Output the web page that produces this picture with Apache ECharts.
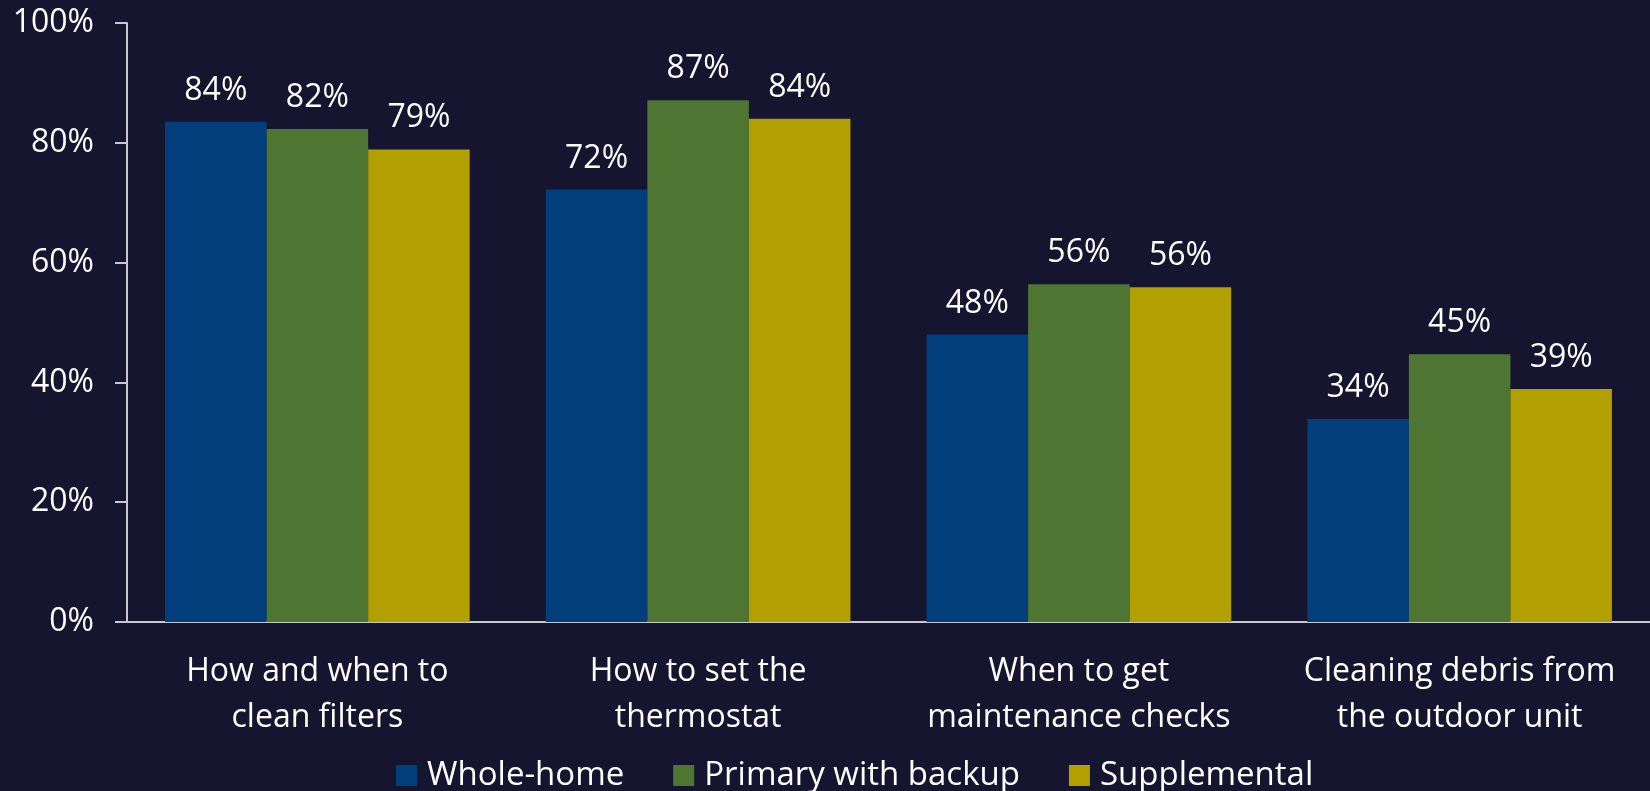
<!DOCTYPE html>
<html>
<head>
<meta charset="utf-8">
<script src="https://cdn.jsdelivr.net/npm/echarts@6/dist/echarts.min.js"></script>
<style>
  html, body { margin: 0; padding: 0; background: #15152f; }
  #chart { width: 1650px; height: 791px; }
</style>
</head>
<body>
<div id="chart"></div>
<script>
var categories = ['How and when to\nclean filters', 'How to set the\nthermostat', 'When to get\nmaintenance checks', 'Cleaning debris from\nthe outdoor unit'];
var wholeHome = [83.5, 72.2, 48.0, 33.9];
var primaryBackup = [82.3, 87.1, 56.4, 44.7];
var supplemental = [78.9, 84.0, 55.9, 38.9];
var yTicks = [0, 20, 40, 60, 80, 100];

var fontFam = '"Open Sans", sans-serif';
var chart = echarts.init(document.getElementById('chart'));

function barSeries(name, data, color) {
    return {
        name: name,
        type: 'bar',
        data: data,
        barGap: '0%',
        barCategoryGap: '20%',
        itemStyle: { color: color },
        label: {
            show: true,
            position: 'top',
            distance: 15,
            color: '#ffffff',
            fontSize: 32,
            fontFamily: fontFam,
            formatter: function (p) { return Math.round(p.value) + '%'; }
        }
    };
}

chart.setOption({
    backgroundColor: '#15152f',
    animation: false,
    grid: { left: 127, right: 0, top: 23, bottom: 169 },
    legend: {
        top: 759,
        left: 396,
        padding: 0,
        itemWidth: 21,
        itemHeight: 21,
        itemGap: 49,
        icon: 'rect',
        textStyle: { color: '#ffffff', fontSize: 33, fontFamily: fontFam, padding: [0, 0, 0, 5] },
        data: ['Whole-home', 'Primary with backup', 'Supplemental']
    },
    xAxis: {
        type: 'category',
        data: categories,
        axisLine: { lineStyle: { color: '#c8c8c8', width: 2 } },
        axisTick: { show: false },
        axisLabel: {
            color: '#ffffff',
            fontSize: 32,
            fontFamily: fontFam,
            lineHeight: 46,
            margin: 27,
            interval: 0
        }
    },
    yAxis: {
        type: 'value',
        min: yTicks[0],
        max: yTicks[yTicks.length - 1],
        interval: 20,
        splitLine: { show: false },
        axisLine: { show: true, lineStyle: { color: '#c8c8c8', width: 2 } },
        axisTick: { show: true, length: 12, lineStyle: { color: '#c8c8c8', width: 2 } },
        axisLabel: {
            color: '#ffffff',
            fontSize: 32,
            fontFamily: fontFam,
            margin: 33,
            formatter: '{value}%'
        }
    },
    series: [
        barSeries('Whole-home', wholeHome, '#023e7c'),
        barSeries('Primary with backup', primaryBackup, '#4f7533'),
        barSeries('Supplemental', supplemental, '#b1a000')
    ]
});
</script>
</body>
</html>
